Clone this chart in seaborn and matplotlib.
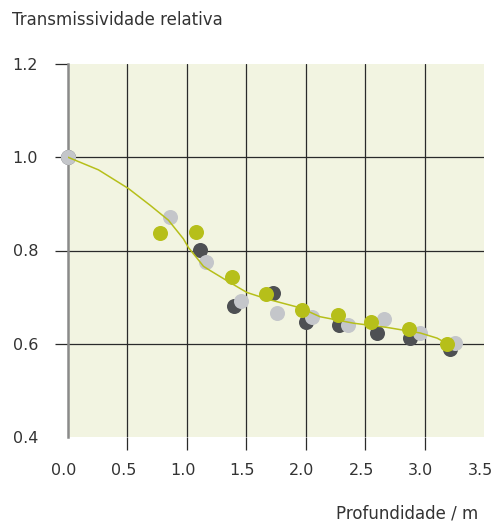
import seaborn as sns
import pandas as pd
import matplotlib.pyplot as plt
from matplotlib.transforms import ScaledTranslation

# valores
verde_x = [0.775, 1.073, 1.376, 1.663, 1.971, 2.270, 2.553, 2.873, 3.190]
verde_y = [0.838, 0.839, 0.743, 0.707, 0.673, 0.661, 0.646, 0.632, 0.600]

escuro_x = [0.0, 1.109, 1.396, 1.721, 2.000, 2.283, 2.600, 2.880, 3.217]
escuro_y = [1.0, 0.801, 0.680, 0.708, 0.647, 0.641, 0.624, 0.613, 0.588]

claro_x = [0.0, 0.857, 1.163, 1.452, 1.761, 2.053, 2.353, 2.658, 2.963, 3.255]
claro_y = [1.0, 0.872, 0.775, 0.692, 0.667, 0.657, 0.641, 0.653, 0.622, 0.601]

curva_x = [0.0, 0.256, 0.508, 0.691, 0.845, 0.971, 1.014, 1.084, 1.140, 1.196,
           1.365, 1.505, 1.673, 1.955, 2.120, 2.404, 2.685, 2.965, 3.106, 3.190]
curva_y = [1.0, 0.973, 0.933, 0.897, 0.865, 0.825, 0.806, 0.784, 0.766, 0.757,
           0.731, 0.710, 0.696, 0.677, 0.658, 0.644, 0.635, 0.623, 0.612, 0.600]

xticks = [0.0, 0.5, 1.0, 1.5, 2.0, 2.5, 3.0, 3.5]
yticks = [0.4, 0.6, 0.8, 1.0, 1.2]

VERDE = "#b6bf1a"
ESCURO = "#4e5053"
CLARO = "#c4c6ca"
FUNDO = "#f2f4e1"
TEXTO = "#333333"
GRADE = "#2a2a2a"

sns.set_style("white")
plt.rcParams["font.family"] = ["DejaVu Sans"]

fig = plt.figure(figsize=(4.95, 5.25), dpi=100)
ax = fig.add_axes([68 / 495, 1 - 437 / 525, 416 / 495, 373 / 525])
ax.set_facecolor(FUNDO)

for xs, ys, cor in [(escuro_x, escuro_y, ESCURO), (claro_x, claro_y, CLARO), (verde_x, verde_y, VERDE)]:
    df = pd.DataFrame({"x": xs, "y": ys})
    sns.scatterplot(data=df, x="x", y="y", color=cor, s=117, linewidth=0,
                    ax=ax, zorder=3, clip_on=False)

# a curva passa por cima dos pontos
df_curva = pd.DataFrame({"x": curva_x, "y": curva_y})
sns.lineplot(data=df_curva, x="x", y="y", sort=False, color=VERDE, lw=1.1, ax=ax, zorder=4)

ax.set_xlim(0, 3.5)
ax.set_ylim(0.4, 1.2)
ax.set_xticks(xticks)
ax.set_yticks(yticks)
ax.set_xticklabels([f"{v:.1f}" for v in xticks])
ax.set_yticklabels([f"{v:.1f}" for v in yticks])
ax.set(xlabel=None, ylabel=None)

ax.grid(True, color=GRADE, lw=0.9)
ax.set_axisbelow(True)
ax.tick_params(axis="both", direction="out", length=9.5, width=0.9, color=GRADE,
               labelsize=11.5, labelcolor=TEXTO, bottom=True, left=True)
ax.tick_params(axis="x", pad=9)
ax.tick_params(axis="y", pad=12)

for t in [ax.xaxis.get_major_ticks()[0], ax.xaxis.get_major_ticks()[-1]]:
    t.tick1line.set_visible(False)
    t.gridline.set_visible(False)
for i, t in enumerate(ax.yaxis.get_major_ticks()):
    if i == 0:
        t.tick1line.set_visible(False)
    if i in (0, len(yticks) - 1):
        t.gridline.set_visible(False)

# rotulos do eixo x ficam um pouco a esquerda no original
desloc = ScaledTranslation(-4 / 100, 0, fig.dpi_scale_trans)
for lab in ax.get_xticklabels():
    lab.set_transform(lab.get_transform() + desloc)

for lado in ["top", "right", "bottom"]:
    ax.spines[lado].set_visible(False)
ax.spines["left"].set_color("#8a8a8a")
ax.spines["left"].set_linewidth(1.8)
ax.spines["left"].set_zorder(2)

fig.text(12 / 495, 1 - 20 / 525, "Transmissividade relativa", fontsize=12,
         color=TEXTO, ha="left", va="center")
fig.text(478 / 495, 1 - 513 / 525, "Profundidade / m", fontsize=12,
         color=TEXTO, ha="right", va="center")

fig.savefig("out.png", dpi=100, facecolor="white")
